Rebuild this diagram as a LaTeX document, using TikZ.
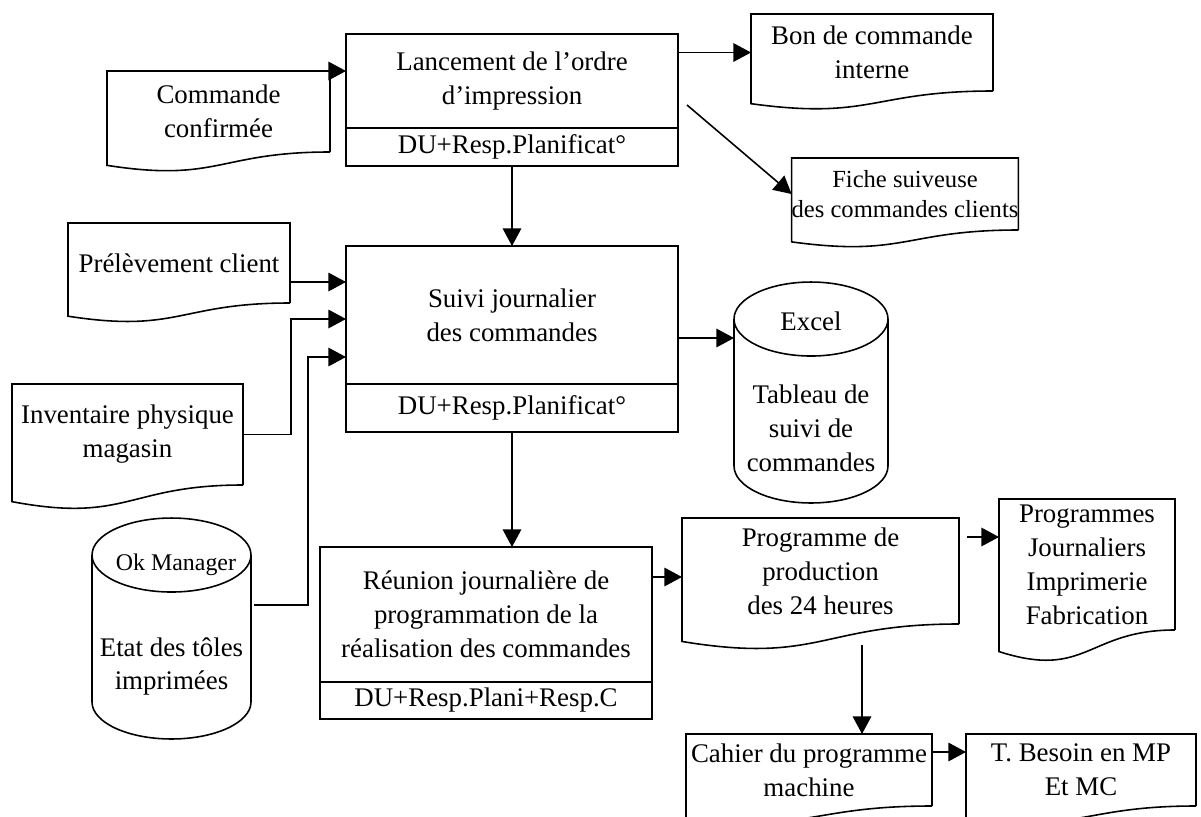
\documentclass[tikz,border=0pt]{standalone}
\usepackage{fontspec}
\setmainfont{Liberation Serif}
\usepackage{tikz}
\usetikzlibrary{positioning,calc,arrows.meta}

\newcommand{\fsize}{\fontsize{15.3pt}{19.3pt}\selectfont}
% document outline round an invisible node
\newcommand{\docpath}[1]{%
  \draw (#1.south east) -- (#1.north east) -- (#1.north west)
    -- ($(#1.south west)!-0.165!(#1.north west)$)
    .. controls ($(#1.south)!-0.38!(#1.north)$) and (#1.south) .. (#1.south east);
}
% cylinder outline round an invisible node
\newcommand{\cylpath}[2]{%
  \draw ([yshift=-0.74cm]#1.north west) -- ([yshift=0.74cm]#1.south west)
    arc[start angle=180,end angle=360,x radius=#2,y radius=0.74cm]
    -- ([yshift=-0.74cm]#1.north east);
  \draw ([yshift=-0.74cm]#1.north) ellipse[x radius=#2,y radius=0.74cm];
}

\begin{document}
\begin{tikzpicture}[x=0.02cm,y=-0.02cm,line width=0.9pt,
  txt/.style={align=center,inner sep=0pt,font=\fsize},
  proc/.style={txt,draw,minimum width=6.64cm,outer sep=0pt},
  doc/.style={txt,outer sep=0pt},
  cyl/.style={inner sep=0pt,outer sep=0pt},
  arr/.style={-{Triangle[length=10pt,width=10.5pt]}}]
\useasboundingbox (0,0) rectangle (1201,816);
\clip (0,0) rectangle (1201,816);

% process boxes
\node[proc,minimum height=1.88cm] (lanc) at (512,81) {Lancement de l’ordre\\d’impression};
\node[proc,minimum height=0.76cm,below=0pt of lanc] (lancR) {DU+Resp.Planificat°};
\node[proc,minimum height=2.76cm] (suivi) at (512,315) {Suivi journalier\\des commandes};
\node[proc,minimum height=0.96cm,below=0pt of suivi] (suiviR) {DU+Resp.Planificat°};
\node[proc,minimum height=2.7cm] (reunion) at (486,614.5) {Réunion journalière de\\programmation de la\\réalisation des commandes};
\node[proc,minimum height=0.74cm,below=0pt of reunion] (reunionR) {DU+Resp.Plani+Resp.C};

% documents
\node[doc,minimum width=4.46cm,minimum height=1.62cm] (cmd) at (218.5,111.5) {Commande\\confirmée};
\docpath{cmd}
\node[doc,minimum width=4.84cm,minimum height=1.54cm] (bon) at (872,52.5) {Bon de commande\\interne};
\docpath{bon}
\node[doc,minimum width=4.52cm,minimum height=1.44cm,font=\fontsize{14pt}{17pt}\selectfont] (fiche) at (905,194) {Fiche suiveuse\\des commandes clients};
\docpath{fiche}
\node[doc,minimum width=4.44cm,minimum height=1.6cm] (prel) at (179,263) {Prélèvement client};
\docpath{prel}
\node[doc,minimum width=4.62cm,minimum height=2.02cm] (inv) at (127.5,434.5) {Inventaire physique\\magasin};
\docpath{inv}
\node[doc,minimum width=5.54cm,minimum height=2.12cm] (prog) at (820.5,571) {Programme de\\production\\des 24 heures};
\docpath{prog}
\node[doc,minimum width=3.52cm,minimum height=2.62cm] (progj) at (1087,564.5) {Programmes\\Journaliers\\Imprimerie\\Fabrication};
\docpath{progj}
\node[doc,minimum width=4.92cm,minimum height=1.44cm] (cahier) at (809,770) {Cahier du programme\\machine};
\docpath{cahier}
\node[doc,minimum width=4.6cm,minimum height=1.44cm] (besoin) at (1081,770) {T. Besoin en MP\\Et MC};
\docpath{besoin}

% data stores
\node[cyl,minimum width=3.08cm,minimum height=4.42cm] (xl) at (811,392.5) {};
\cylpath{xl}{1.54cm}
\node[txt] (xlname) at (811,321) {Excel};
\node[txt] (xlbody) at (811,428.5) {Tableau de\\suivi de\\commandes};
\node[cyl,minimum width=3.18cm,minimum height=4.42cm] (okm) at (171.5,628.5) {};
\cylpath{okm}{1.59cm}
\node[txt,font=\fontsize{13.6pt}{16pt}\selectfont] (okname) at (176,565) {Ok Manager};
\node[txt] (okbody) at (171.5,666.5) {Etat des tôles\\imprimées};

% free ends and entry points
\coordinate (dg) at (687,105);
\coordinate (e1) at (346,282);
\coordinate (e2) at (346,319);
\coordinate (e3) at (346,357);
\coordinate (k1) at (254,605);
\coordinate (e4) at (734,338);
\coordinate (e5) at (682,577);
\coordinate (pj) at (967,537);
\coordinate (pc) at (862,645);
\coordinate (e6) at (966,752);

% connectors
\draw[arr] (cmd.north east) -- (cmd.north east -| lanc.west);
\draw[arr] (bon.west -| lanc.east) -- (bon.west);
\draw[arr] (dg) -- (fiche.west);
\draw[arr] (lancR.south) -- (suivi.north);
\draw[arr] (e1 -| prel.east) -- (e1);
\draw[arr] (inv.east) -- ++(48,0) |- (e2);
\draw[arr] (k1) -- ++(54,0) |- (e3);
\draw[arr] (e4 -| suivi.east) -- (e4);
\draw[arr] (suiviR.south) -- (suiviR.south |- reunion.north);
\draw[arr] (e5 -| reunion.east) -- (e5);
\draw[arr] (pj) -- (pj -| progj.west);
\draw[arr] (pc) -- (pc |- cahier.north);
\draw[arr] (e6 -| cahier.east) -- (e6);
\end{tikzpicture}
\end{document}
